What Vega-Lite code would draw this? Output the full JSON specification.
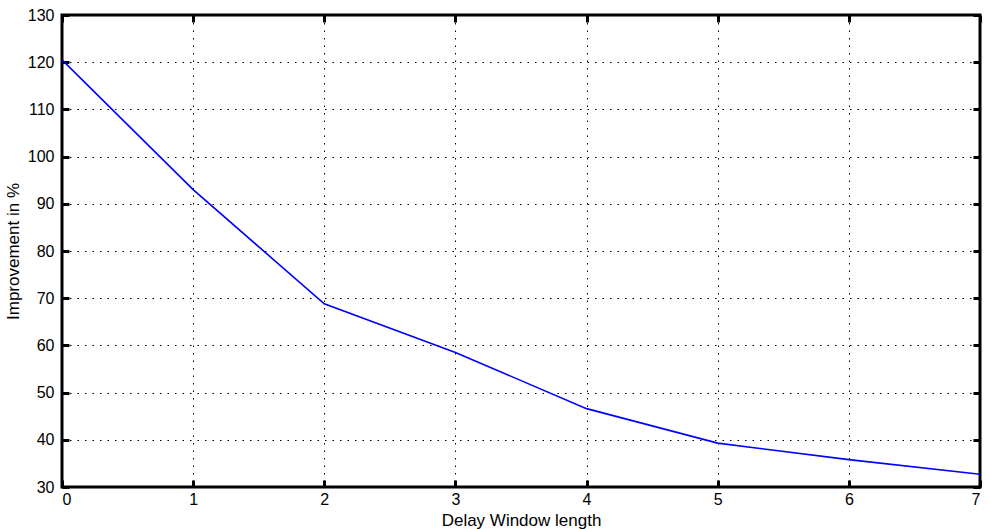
{
  "$schema": "https://vega.github.io/schema/vega-lite/v6.json",
  "width": 918,
  "height": 472,
  "autosize": {"type": "none"},
  "padding": {"left": 62, "top": 15, "right": 10, "bottom": 42},
  "background": "white",
  "config": {
    "view": {"stroke": "black", "strokeWidth": 3},
    "font": "Liberation Sans",
    "axis": {
      "domain": false,
      "grid": true,
      "gridColor": "black",
      "gridOpacity": 1,
      "gridDash": [1.5, 6],
      "gridWidth": 1,
      "tickColor": "black",
      "tickWidth": 3,
      "tickSize": -7,
      "labelFont": "Liberation Sans",
      "labelFontSize": 16,
      "labelColor": "black",
      "titleFont": "Liberation Sans",
      "titleFontSize": 17,
      "titleFontWeight": "normal",
      "titleColor": "black"
    }
  },
  "data": {
    "values": [
      {"x": 0, "y": 120.5},
      {"x": 1, "y": 93.0},
      {"x": 2, "y": 68.8},
      {"x": 3, "y": 58.5},
      {"x": 4, "y": 46.6},
      {"x": 5, "y": 39.3},
      {"x": 6, "y": 35.8},
      {"x": 7, "y": 32.7}
    ]
  },
  "layer": [
    {
      "mark": {"type": "line", "color": "#0000ff", "strokeWidth": 1.6, "clip": true},
      "encoding": {
        "x": {
          "field": "x", "type": "quantitative",
          "scale": {"domain": [0, 7], "nice": false, "zero": false},
          "axis": {"values": [0,1,2,3,4,5,6,7], "title": "Delay Window length", "labelPadding": 11, "titlePadding": 5, "format": "d"}
        },
        "y": {
          "field": "y", "type": "quantitative",
          "scale": {"domain": [30, 130], "nice": false, "zero": false},
          "axis": {"values": [30,40,50,60,70,80,90,100,110,120,130], "title": "Improvement in %", "labelPadding": 15, "titlePadding": 5, "format": "d"}
        }
      }
    },
    {
      "mark": {"type": "line", "opacity": 0},
      "encoding": {
        "x": {
          "field": "x", "type": "quantitative",
          "scale": {"domain": [0, 7], "nice": false, "zero": false},
          "axis": {"orient": "top", "values": [0,1,2,3,4,5,6,7], "title": null, "labels": false, "grid": false}
        },
        "y": {
          "field": "y", "type": "quantitative",
          "scale": {"domain": [30, 130], "nice": false, "zero": false},
          "axis": {"orient": "right", "values": [30,40,50,60,70,80,90,100,110,120,130], "title": null, "labels": false, "grid": false}
        }
      }
    }
  ],
  "resolve": {"axis": {"x": "independent", "y": "independent"}}
}
